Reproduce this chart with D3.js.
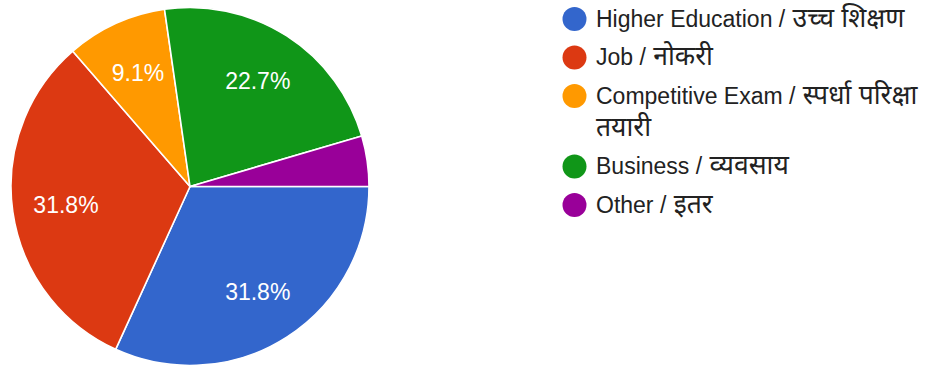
<!DOCTYPE html>
<html>
<head>
<meta charset="utf-8">
<script src="https://cdn.jsdelivr.net/npm/d3@7"></script>
<style>
  html, body { margin: 0; padding: 0; background: #fff; }
  svg { display: block; }
  text { font-family: Arial, "Liberation Sans", "Noto Sans Devanagari", "Noto Sans", sans-serif; }
</style>
</head>
<body>
<svg id="chart" width="926" height="369"></svg>
<script>
// Answer options (English / Marathi) and response counts
const categories = [
  "Higher Education / उच्च शिक्षण",
  "Job / नोकरी",
  "Competitive Exam / स्पर्धा परिक्षा तयारी",
  "Business / व्यवसाय",
  "Other / इतर"
];
const counts = [7, 7, 2, 5, 1];
const colors = ["#3366cc", "#dc3912", "#ff9900", "#109618", "#990099"];

const svg = d3.select("#chart");
const cx = 190, cy = 186.5, radius = 179;

const total = d3.sum(counts);
const data = categories.map((c, i) => ({ label: c, value: counts[i], color: colors[i] }));

// Slices run clockwise from the 3 o'clock position
const pie = d3.pie().value(d => d.value).sort(null)
  .startAngle(Math.PI / 2).endAngle(Math.PI / 2 + 2 * Math.PI);
const arc = d3.arc().innerRadius(0).outerRadius(radius);
const labelArc = d3.arc().innerRadius(radius * 0.7).outerRadius(radius * 0.7);

const g = svg.append("g").attr("transform", `translate(${cx},${cy})`);
const arcs = pie(data);

g.selectAll("path.slice").data(arcs).enter().append("path")
  .attr("class", "slice")
  .attr("d", arc)
  .attr("fill", d => d.data.color)
  .attr("stroke", "#fff")
  .attr("stroke-width", 1.6)
  .attr("stroke-linejoin", "round");

// Percentage labels (too-thin slices stay unlabeled)
const fmt = v => (v * 100).toFixed(1) + "%";
g.selectAll("text.pct").data(arcs.filter(d => d.data.value / total >= 0.05)).enter().append("text")
  .attr("class", "pct")
  .attr("transform", d => `translate(${labelArc.centroid(d)})`)
  .attr("text-anchor", "middle")
  .attr("dy", "0.36em")
  .attr("fill", "#fff")
  .style("font-size", "23px")
  .text(d => fmt(d.data.value / total));

// Legend
const legend = svg.append("g").attr("transform", "translate(574.5,0)");
const textX = 21.5, lineH = 32, rowGap = 38.5, maxW = 330;
const latinSize = 23, devaSize = 26.5;
const isDeva = s => /[\u0900-\u097F]/.test(s);

// write a line of words as tspans, Devanagari words in a slightly larger size
function fillLine(textSel, words) {
  textSel.selectAll("tspan").remove();
  words.forEach((w, i) => {
    textSel.append("tspan")
      .style("font-size", (isDeva(w) ? devaSize : latinSize) + "px")
      .text((i ? " " : "") + w);
  });
}

let y = 19;
data.forEach(d => {
  const row = legend.append("g").attr("transform", `translate(0,${y})`);
  row.append("circle").attr("r", 12).attr("fill", d.color);
  const words = d.label.split(" ");
  // greedy word wrap
  const lines = [];
  const probe = row.append("text").attr("visibility", "hidden");
  let cur = [];
  words.forEach(w => {
    const trial = cur.concat([w]);
    fillLine(probe, trial);
    if (probe.node().getComputedTextLength() > maxW && cur.length) {
      lines.push(cur);
      cur = [w];
    } else {
      cur = trial;
    }
  });
  if (cur.length) lines.push(cur);
  probe.remove();

  lines.forEach((ln, k) => {
    const t = row.append("text")
      .attr("x", textX).attr("y", 7.8 + k * lineH)
      .attr("fill", "#222")
      .style("font-size", latinSize + "px");
    fillLine(t, ln);
  });
  y += rowGap + (lines.length - 1) * lineH;
});
</script>
</body>
</html>
